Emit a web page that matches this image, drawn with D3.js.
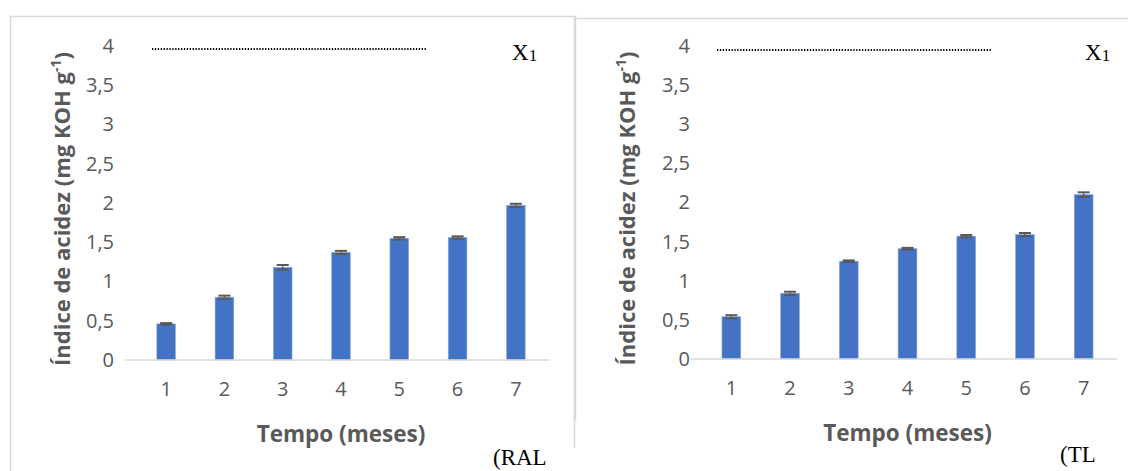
<!DOCTYPE html>
<html lang="en">
<head>
  <meta charset="utf-8">
  <script src="https://d3js.org/d3.v7.min.js"></script>
  <style>
    body { margin: 0; background: #fff; }
  </style>
</head>
<body>
<script>
  // months on the x axis
  const months = ["1", "2", "3", "4", "5", "6", "7"];
  // acidity index, left panel (RAL)
  const ralValues = [0.46, 0.80, 1.18, 1.37, 1.55, 1.56, 1.97];
  const ralErrors = [0.01, 0.02, 0.03, 0.02, 0.015, 0.015, 0.02];
  // acidity index, right panel (TL)
  const tlValues = [0.54, 0.84, 1.25, 1.41, 1.57, 1.59, 2.10];
  const tlErrors = [0.02, 0.02, 0.01, 0.01, 0.015, 0.02, 0.03];
  const yTicks = [0, 0.5, 1, 1.5, 2, 2.5, 3, 3.5, 4];

  const W = 1128, H = 471;
  const sans = "'Open Sans', 'Noto Sans', sans-serif";
  const serif = "'Liberation Serif', 'DejaVu Serif', serif";

  const svg = d3.select("body").append("svg")
    .attr("width", W).attr("height", H);

  // panel frames
  svg.append("path")
    .attr("d", "M10.5,471 V16.5 H575.5 V420")
    .attr("fill", "none").attr("stroke", "#d9d9d9").attr("stroke-width", 1.5);
  svg.append("path")
    .attr("d", "M574.5,448 V18.5 H1128")
    .attr("fill", "none").attr("stroke", "#d9d9d9").attr("stroke-width", 1.5);

  function panel(opt) {
    const g = svg.append("g");
    const x = d3.scaleBand().domain(months).range([opt.x0, opt.x1]).paddingInner(0.68).paddingOuter(0.34);
    const y = d3.scaleLinear().domain([0, 4]).range([opt.yBase, opt.yTop]);

    // y tick labels (no axis line)
    const yAxis = g.append("g")
      .attr("transform", "translate(" + opt.yLabelX + ",0)")
      .call(d3.axisLeft(y).tickValues(yTicks).tickSize(0).tickPadding(0)
        .tickFormat(d => String(d).replace(".", ",")));
    yAxis.select(".domain").remove();
    yAxis.selectAll("text").attr("font-family", sans).attr("font-size", 20).attr("fill", "#595959");

    // bars
    const data = months.map((m, i) => ({m: m, v: opt.values[i], e: opt.errors[i]}));
    g.selectAll("rect.bar").data(data).enter().append("rect")
      .attr("class", "bar")
      .attr("x", d => x(d.m))
      .attr("width", x.bandwidth())
      .attr("y", d => y(d.v))
      .attr("height", d => y(0) - y(d.v))
      .attr("fill", "#4472c4")
      .attr("stroke", "#8faadc").attr("stroke-width", 0.6);

    // error bars
    const eb = g.selectAll("g.err").data(data).enter().append("g").attr("class", "err");
    const cx = d => x(d.m) + x.bandwidth() / 2;
    eb.append("line")
      .attr("x1", cx).attr("x2", cx)
      .attr("y1", d => y(d.v + d.e)).attr("y2", d => y(d.v - d.e))
      .attr("stroke", "#595959").attr("stroke-width", 1.2);
    eb.selectAll("line.cap").data(d => [d.v + d.e, d.v - d.e].map(v => ({m: d.m, v: v})))
      .enter().append("line").attr("class", "cap")
      .attr("x1", d => cx(d) - 6).attr("x2", d => cx(d) + 6)
      .attr("y1", d => y(d.v)).attr("y2", d => y(d.v))
      .attr("stroke", "#595959").attr("stroke-width", 2);

    // x axis
    const xAxis = g.append("g")
      .attr("transform", "translate(0," + y(0) + ")")
      .call(d3.axisBottom(x).tickSize(0).tickPadding(22));
    xAxis.select(".domain").attr("stroke", "#d9d9d9").attr("stroke-width", 1.5)
      .attr("d", "M" + (opt.x0 - 12) + ",0H" + (opt.x1 + 4));
    xAxis.selectAll("text").attr("font-family", sans).attr("font-size", 20).attr("fill", "#595959");

    // axis titles
    g.append("text")
      .attr("transform", "translate(" + opt.titleX + "," + ((opt.yBase + opt.yTop) / 2 + 6) + ") rotate(-90)")
      .attr("text-anchor", "middle").attr("dy", "0.35em")
      .attr("font-family", sans).attr("font-weight", "bold").attr("font-size", 22).attr("fill", "#595959")
      .call(t => {
        t.append("tspan").text("Índice de acidez (mg KOH g");
        t.append("tspan").attr("font-size", 14).attr("dy", "-0.6em").text("-1");
        t.append("tspan").attr("dy", "0.4em").text(")");
      });
    g.append("text")
      .attr("x", (opt.x0 + opt.x1) / 2).attr("y", opt.yBase + 82)
      .attr("text-anchor", "middle")
      .attr("font-family", sans).attr("font-weight", "bold").attr("font-size", 22.5).attr("fill", "#595959")
      .text("Tempo (meses)");

    // dotted reference line and labels
    g.append("line")
      .attr("x1", opt.dotX0).attr("x2", opt.dotX1)
      .attr("y1", opt.dotY).attr("y2", opt.dotY)
      .attr("stroke", "#000").attr("stroke-width", 2).attr("stroke-dasharray", "1.3,1.6");
    g.append("text")
      .attr("x", opt.labelX).attr("y", 60)
      .attr("font-family", serif).attr("font-size", 23).attr("fill", "#000")
      .call(t => {
        t.append("tspan").text("X");
        t.append("tspan").attr("font-size", 17).attr("dy", 1).text("1");
      });
    g.append("text")
      .attr("x", opt.tagX).attr("y", opt.tagY)
      .attr("font-family", serif).attr("font-size", 23).attr("fill", "#000")
      .text(opt.tag);
  }

  panel({
    values: ralValues, errors: ralErrors,
    x0: 137, x1: 545, yBase: 360, yTop: 46, yLabelX: 114,
    titleX: 62, dotX0: 152, dotX1: 426, dotY: 49,
    labelX: 512, tagX: 493, tagY: 465, tag: "(RAL"
  });
  panel({
    values: tlValues, errors: tlErrors,
    x0: 702, x1: 1113, yBase: 359, yTop: 46, yLabelX: 690,
    titleX: 627, dotX0: 717, dotX1: 991, dotY: 50,
    labelX: 1085, tagX: 1060, tagY: 462, tag: "(TL"
  });
</script>
</body>
</html>
